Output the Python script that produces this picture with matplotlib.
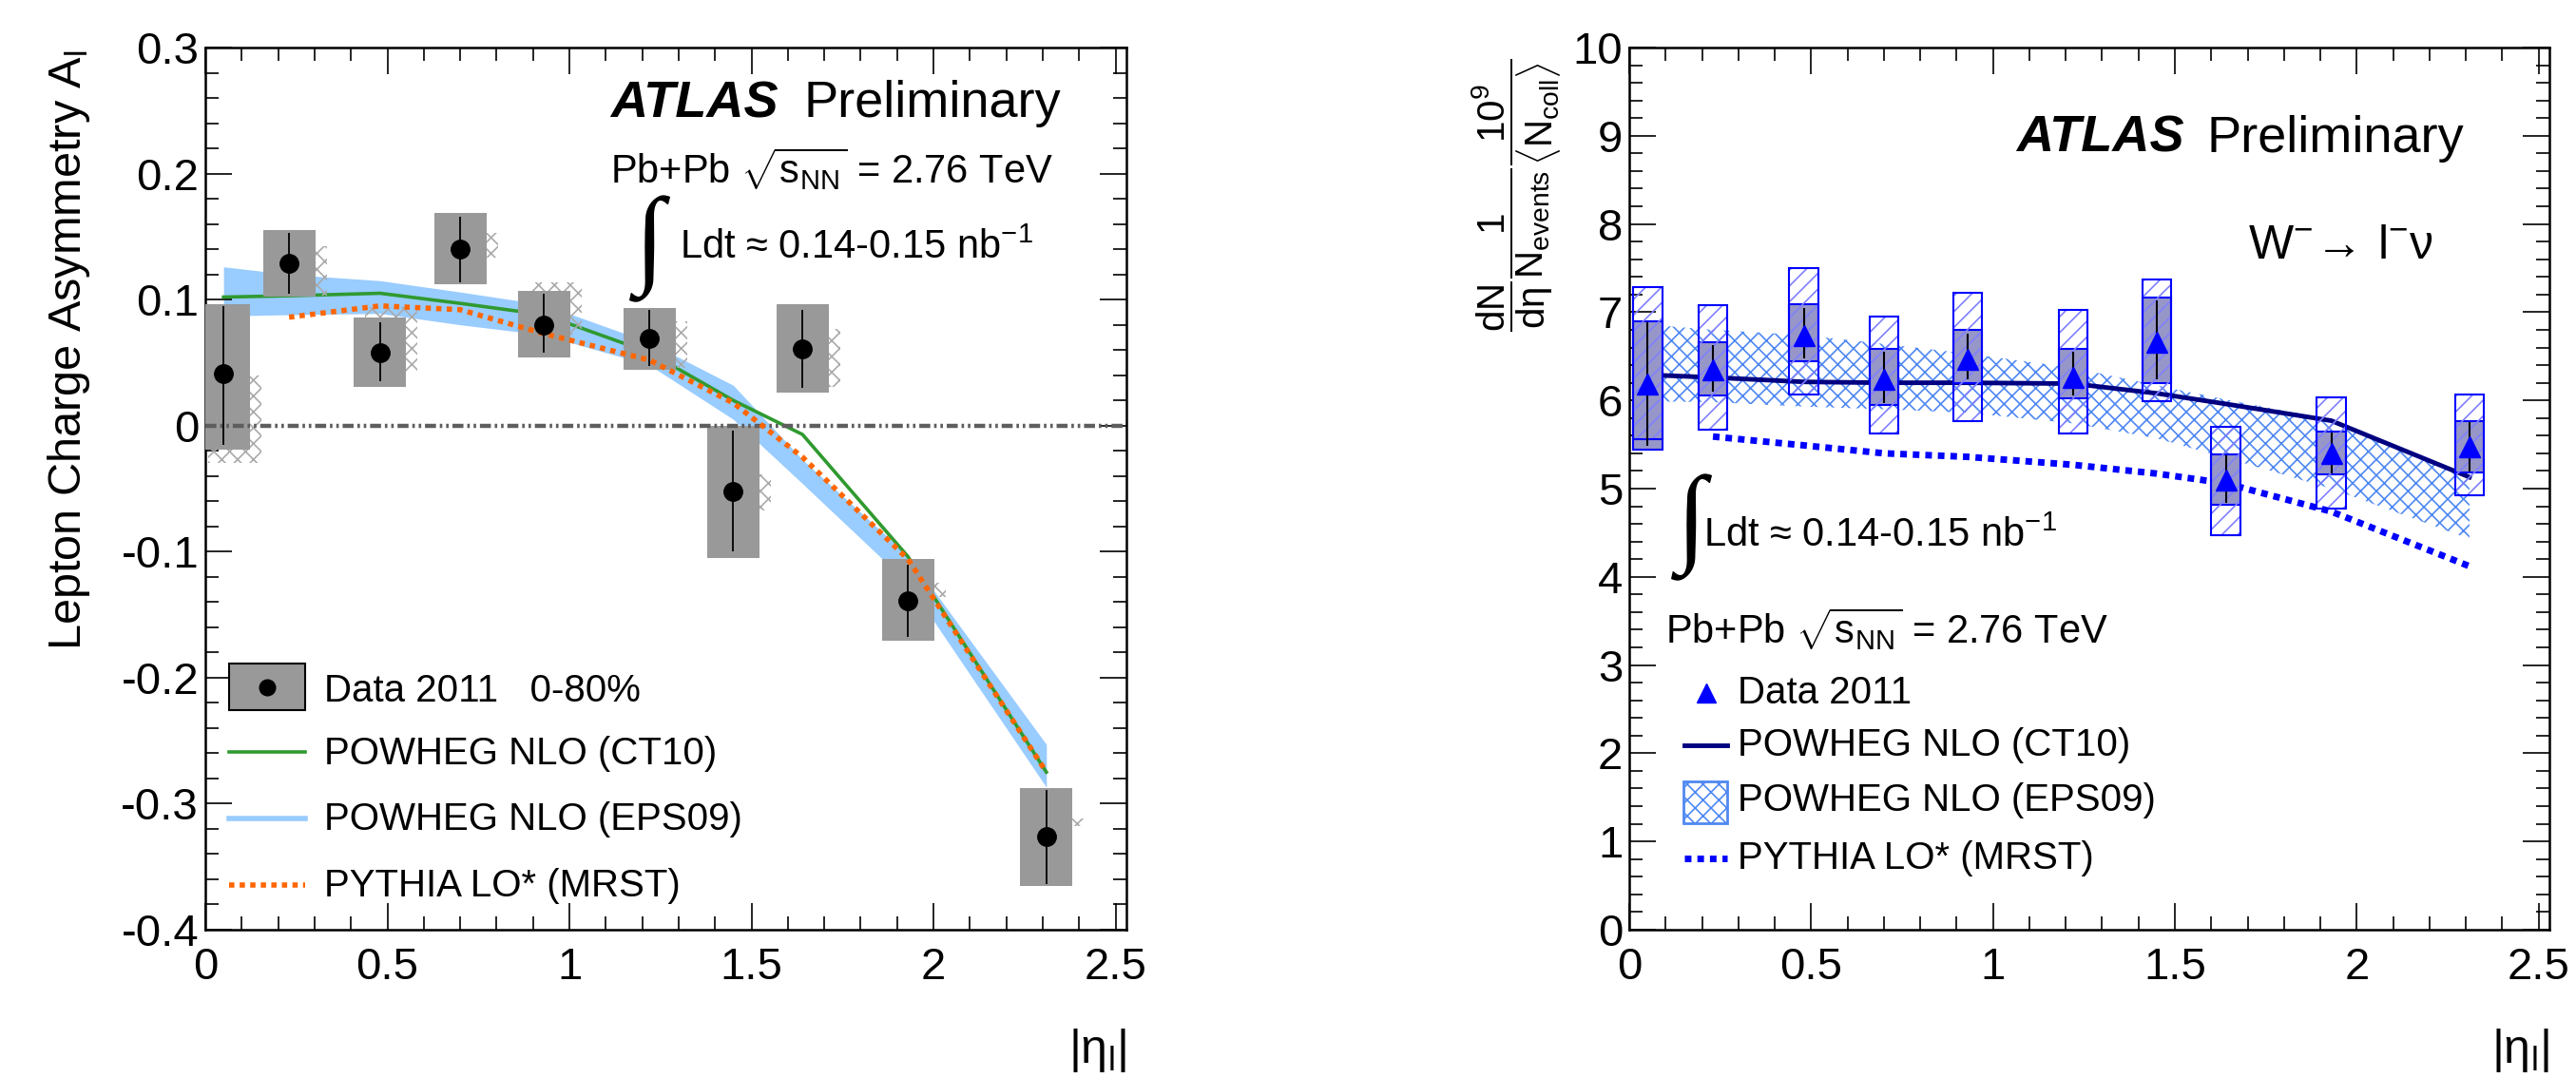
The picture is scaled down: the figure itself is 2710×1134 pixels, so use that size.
import matplotlib
matplotlib.use('Agg')
import matplotlib.pyplot as plt
from matplotlib.patches import Rectangle
from matplotlib.ticker import MultipleLocator, FuncFormatter

plt.rcParams['font.family'] = ['Liberation Sans', 'DejaVu Sans']
plt.rcParams['mathtext.fontset'] = 'custom'
plt.rcParams['mathtext.rm'] = 'Liberation Sans'
plt.rcParams['mathtext.it'] = 'Liberation Sans:italic'
plt.rcParams['mathtext.bf'] = 'Liberation Sans:bold'
plt.rcParams['axes.unicode_minus'] = False
plt.rcParams['hatch.linewidth'] = 1.2

# |eta_l| bin centres (shared by both panels)
eta = [0.05, 0.23, 0.48, 0.70, 0.93, 1.22, 1.45, 1.64, 1.93, 2.31]

# ---- left panel: lepton charge asymmetry ----
asym = [0.041, 0.129, 0.058, 0.140, 0.080, 0.069, -0.052, 0.061, -0.139, -0.326]
asym_err_hi = [0.095, 0.153, 0.082, 0.166, 0.105, 0.092, -0.004, 0.092, -0.110, -0.289]
asym_err_lo = [-0.015, 0.105, 0.035, 0.114, 0.058, 0.047, -0.100, 0.030, -0.168, -0.364]
asym_box_hi = [0.096, 0.155, 0.086, 0.169, 0.107, 0.093, 0.000, 0.096, -0.106, -0.288]
asym_box_lo = [-0.019, 0.102, 0.031, 0.112, 0.054, 0.044, -0.105, 0.026, -0.171, -0.365]
asym_hatch_hi = [0.040, 0.142, 0.094, 0.153, 0.114, 0.083, -0.039, 0.077, -0.125, -0.312]
asym_hatch_lo = [-0.030, 0.103, 0.043, 0.133, 0.072, 0.046, -0.067, 0.031, -0.136, -0.318]

asym_ct10 = [0.102, 0.103, 0.105, 0.097, 0.088, 0.058, 0.020, -0.007, -0.104, -0.275]
asym_eps_hi = [0.126, 0.120, 0.115, 0.106, 0.096, 0.066, 0.032, -0.027, -0.103, -0.253]
asym_eps_lo = [0.087, 0.088, 0.089, 0.080, 0.072, 0.048, 0.005, -0.046, -0.125, -0.287]
asym_mrst = [0.086, 0.095, 0.092, 0.073, 0.052, 0.018, -0.025, -0.106, -0.275]  # from 2nd bin

# ---- right panel: W- yields ----
yld = [6.19, 6.35, 6.74, 6.24, 6.47, 6.26, 6.66, 5.10, 5.40, 5.47]
yld_err_hi = [6.89, 6.63, 7.05, 6.55, 6.76, 6.55, 7.13, 5.38, 5.64, 5.75]
yld_err_lo = [5.49, 6.10, 6.48, 5.97, 6.24, 6.06, 6.24, 4.84, 5.17, 5.19]
yld_box_hi = [6.90, 6.66, 7.09, 6.58, 6.80, 6.58, 7.17, 5.39, 5.65, 5.77]
yld_box_lo = [5.44, 6.06, 6.44, 5.95, 6.20, 6.02, 6.20, 4.82, 5.16, 5.18]
yld_hatch_hi = [7.28, 7.08, 7.50, 6.95, 7.22, 7.03, 7.37, 5.70, 6.03, 6.07]
yld_hatch_lo = [5.56, 5.67, 6.07, 5.62, 5.77, 5.62, 5.99, 4.47, 4.77, 4.92]

yld_ct10 = [6.29, 6.26, 6.21, 6.20, 6.20, 6.19, 6.08, 5.96, 5.77, 5.13]
yld_eps_hi = [6.86, 6.80, 6.74, 6.64, 6.53, 6.37, 6.17, 6.01, 5.78, 5.15]
yld_eps_lo = [5.99, 5.98, 5.93, 5.90, 5.86, 5.74, 5.57, 5.35, 5.00, 4.43]
yld_mrst = [5.59, 5.49, 5.40, 5.36, 5.27, 5.17, 5.06, 4.74, 4.12]  # from 2nd bin

GREEN = '#2f9a2f'
LBLUE = '#99ccff'
ORANGE = '#ff6600'
NAVY = '#000080'
BLUE = '#0000ff'
XHATCH = '#4f88f2'


def fmt(v, pos):
    v = round(v, 6)
    if v == 0:
        return '0'
    return f'{v:g}'


def style(ax):
    ax.set_xlim(0, 2.53)
    ax.xaxis.set_major_locator(MultipleLocator(0.5))
    ax.xaxis.set_minor_locator(MultipleLocator(0.1))
    ax.xaxis.set_major_formatter(FuncFormatter(fmt))
    ax.yaxis.set_major_formatter(FuncFormatter(fmt))
    ax.tick_params(which='both', direction='in', top=True, right=True, labelsize=34, width=1.2)
    ax.tick_params(which='major', length=20)
    ax.tick_params(which='minor', length=10)
    ax.tick_params(axis='x', pad=13)
    ax.tick_params(axis='y', pad=5)
    for s in ax.spines.values():
        s.set_linewidth(1.8)


fig = plt.figure(figsize=(27.1, 11.34), dpi=100)

# ================= left =================
ax = fig.add_axes([0.0797, 0.1376, 0.3576, 0.8183])
style(ax)
ax.set_ylim(-0.4, 0.3)
ax.yaxis.set_major_locator(MultipleLocator(0.1))
ax.yaxis.set_minor_locator(MultipleLocator(0.02))

ax.fill_between(eta, asym_eps_lo, asym_eps_hi, color=LBLUE, lw=0, zorder=1)
ax.plot(eta, asym_ct10, color=GREEN, lw=2.6, zorder=2)

hw = 0.072
xs_h = [x + 0.031 for x in eta]
ax.bar(xs_h, [h - l for h, l in zip(asym_hatch_hi, asym_hatch_lo)], width=2 * hw,
       bottom=asym_hatch_lo, fill=False, hatch='xx', edgecolor='#aaaaaa', lw=0, zorder=3)
ax.bar(eta, [h - l for h, l in zip(asym_box_hi, asym_box_lo)], width=2 * hw,
       bottom=asym_box_lo, color='#999999', lw=0, zorder=4)
ax.axhline(0, color='#5e5e5e', lw=3.2, linestyle=(0, (2.6, 0.9, 0.6, 0.9, 0.6, 0.9)), zorder=5)
ax.plot(eta[1:], asym_mrst, color=ORANGE, lw=4, linestyle=(0, (1, 1)),
        dash_capstyle='butt', zorder=6)
ax.vlines(eta, asym_err_lo, asym_err_hi, color='k', lw=1.3, zorder=7)
ax.plot(eta, asym, 'o', color='k', ms=14, zorder=8)

tk = dict(transform=ax.transAxes)
ax.text(0.4396, 0.921, 'ATLAS', fontsize=39, fontweight='bold', style='italic', **tk)
ax.text(0.6496, 0.921, 'Preliminary', fontsize=39, **tk)
ax.text(0.4396, 0.846, r'Pb+Pb $\sqrt{\mathrm{s}_{\mathrm{NN}}}$ = 2.76 TeV', fontsize=30, **tk)
ax.text(0.466, 0.772, '∫', fontsize=82, family='Liberation Serif', va='center', **tk)
ax.text(0.515, 0.761, r'Ldt ≈ 0.14-0.15 nb$^{\mathrm{-1}}$', fontsize=30, **tk)

# legend
ax.add_patch(Rectangle((0.0258, 0.2489), 0.0826, 0.0528, facecolor='#999999',
                       edgecolor='k', lw=1.5, transform=ax.transAxes, zorder=9))
ax.plot([0.067], [0.275], 'o', color='k', ms=12, transform=ax.transAxes, zorder=10)
ax.plot([0.0258, 0.1084], [0.201, 0.201], color=GREEN, lw=2.6, transform=ax.transAxes)
ax.plot([0.0258, 0.1084], [0.126, 0.126], color=LBLUE, lw=4, transform=ax.transAxes)
ax.plot([0.0258, 0.1084], [0.0506, 0.0506], color=ORANGE, lw=4, linestyle=(0, (1, 1)),
        dash_capstyle='butt', transform=ax.transAxes)
lab_l = ['Data 2011   0-80%', 'POWHEG NLO (CT10)', 'POWHEG NLO (EPS09)', 'PYTHIA LO* (MRST)']
for lab, yb in zip(lab_l, [0.259, 0.188, 0.113, 0.038]):
    ax.text(0.129, yb, lab, fontsize=29, **tk)

fig.text(0.0266, 0.954, r'Lepton Charge Asymmetry A$_{\mathrm{l}}$', fontsize=35,
         rotation=90, ha='center', va='top')
fig.text(0.4373, 0.0256, r'|η$_{\mathrm{l}}$|', fontsize=36, ha='right', va='center')

# ================= right =================
ax2 = fig.add_axes([0.6325, 0.1376, 0.3572, 0.8183])
style(ax2)
ax2.set_ylim(0, 10)
ax2.yaxis.set_major_locator(MultipleLocator(1))
ax2.yaxis.set_minor_locator(MultipleLocator(0.2))

ax2.fill_between(eta, yld_eps_lo, yld_eps_hi, facecolor='none', edgecolor=XHATCH,
                 hatch='xx', lw=0, zorder=1)
ax2.plot(eta, yld_ct10, color=NAVY, lw=3.5, zorder=2)
ax2.plot(eta[1:], yld_mrst, color=BLUE, lw=5, linestyle=(0, (1, 0.9)),
         dash_capstyle='butt', zorder=2)

hw2 = 0.04
ax2.bar(eta, [h - l for h, l in zip(yld_box_hi, yld_box_lo)], width=2 * hw2,
        bottom=yld_box_lo, facecolor='#9696c8', edgecolor=BLUE, lw=1.5, zorder=3)
hh = [h - l for h, l in zip(yld_hatch_hi, yld_hatch_lo)]
ax2.bar(eta, hh, width=2 * hw2, bottom=yld_hatch_lo, fill=False, hatch='//',
        edgecolor='#8080ff', lw=0, zorder=4)
ax2.bar(eta, hh, width=2 * hw2, bottom=yld_hatch_lo, fill=False,
        edgecolor=BLUE, lw=1.5, zorder=5)
ax2.vlines(eta, yld_err_lo, yld_err_hi, color='k', lw=1.5, zorder=6)
ax2.plot(eta, yld, '^', color=BLUE, ms=16.5, zorder=7)

tk2 = dict(transform=ax2.transAxes)
ax2.text(0.4205, 0.8816, 'ATLAS', fontsize=39, fontweight='bold', style='italic', **tk2)
ax2.text(0.628, 0.8816, 'Preliminary', fontsize=39, **tk2)
ax2.text(0.6725, 0.761, r'W$^{-}\!\rightarrow\!$ l$^{-}$ν', fontsize=36, **tk2)
ax2.text(0.052, 0.4557, '∫', fontsize=82, family='Liberation Serif', va='center', **tk2)
ax2.text(0.0806, 0.434, r'Ldt ≈ 0.14-0.15 nb$^{\mathrm{-1}}$', fontsize=30, **tk2)
ax2.text(0.039, 0.324, r'Pb+Pb $\sqrt{\mathrm{s}_{\mathrm{NN}}}$ = 2.76 TeV', fontsize=30, **tk2)

# legend
ax2.plot([0.0837], [0.2686], '^', color=BLUE, ms=14, transform=ax2.transAxes)
ax2.plot([0.06, 0.1064], [0.2088, 0.2088], color=NAVY, lw=3.5, transform=ax2.transAxes)
ax2.add_patch(Rectangle((0.0589, 0.1206), 0.0475, 0.0474, facecolor='none',
                        edgecolor=XHATCH, hatch='xx', lw=2, transform=ax2.transAxes))
ax2.plot([0.06, 0.1064], [0.0813, 0.0813], color=BLUE, lw=5, linestyle=(0, (1, 0.9)),
         dash_capstyle='butt', transform=ax2.transAxes)
lab_r = ['Data 2011', 'POWHEG NLO (CT10)', 'POWHEG NLO (EPS09)', 'PYTHIA LO* (MRST)']
for lab, yb in zip(lab_r, [0.2567, 0.1976, 0.1346, 0.0694]):
    ax2.text(0.1178, yb, lab, fontsize=29, **tk2)

fig.text(0.589, 0.946,
         r'$\dfrac{\mathrm{dN}}{\mathrm{d\eta}}\dfrac{1}{\mathrm{N_{events}}}'
         r'\dfrac{10^{9}}{\langle\mathrm{N_{coll}}\rangle}$',
         fontsize=29, rotation=90, ha='center', va='top')
fig.text(0.9897, 0.0256, r'|η$_{\mathrm{l}}$|', fontsize=36, ha='right', va='center')

fig.savefig('out.png', dpi=100)
